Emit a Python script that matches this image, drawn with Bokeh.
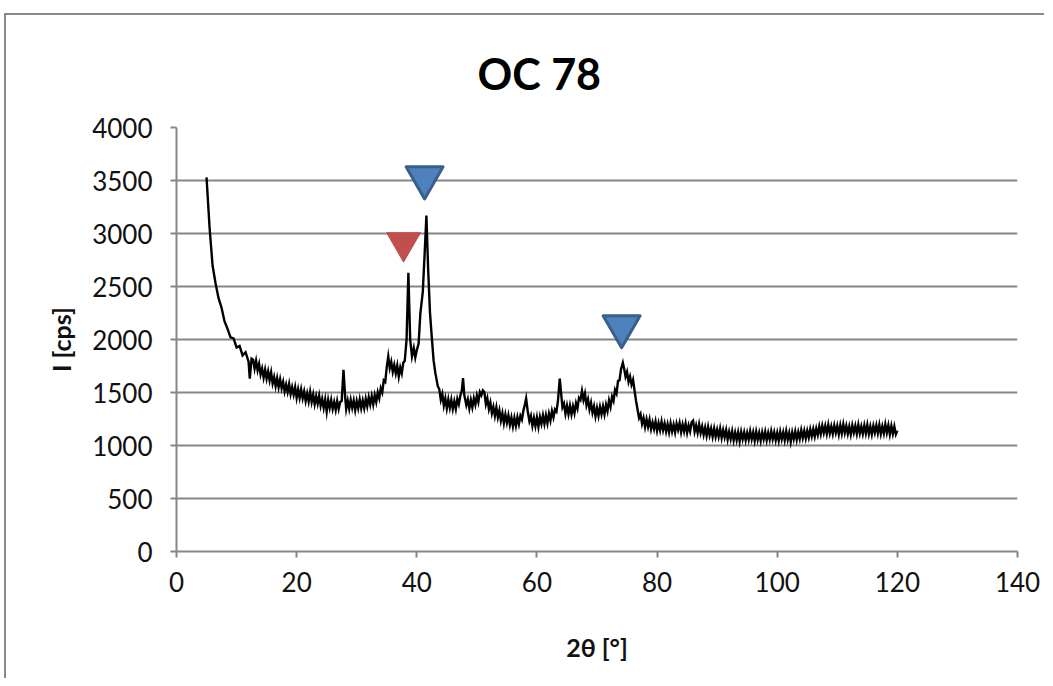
from bokeh.plotting import figure
from bokeh.models import Range1d, FixedTicker
from bokeh.embed import file_html
from bokeh.resources import INLINE

# ---- data (2theta in degrees, intensity in cps) ----
theta_a = [5.0, 5.5, 6.0, 6.5, 7.0, 7.5, 8.0, 8.5, 9.0, 9.5, 10.0, 10.5, 11.0, 11.5, 12.0, 12.2, 12.5]
int_a = [3530, 3060, 2700, 2530, 2390, 2300, 2170, 2100, 2020, 2010, 1925, 1940, 1850, 1880, 1790, 1630, 1820]

theta_b = [12.75, 13.0, 13.25, 13.5, 13.75, 14.0, 14.25, 14.5, 14.75, 15.0,
           15.25, 15.5, 15.75, 16.0, 16.25, 16.5, 16.75, 17.0, 17.25, 17.5,
           17.75, 18.0, 18.25, 18.5, 18.75, 19.0, 19.25, 19.5, 19.75, 20.0,
           20.25, 20.5, 20.75, 21.0, 21.25, 21.5, 21.75, 22.0, 22.25, 22.5,
           22.75, 23.0, 23.25, 23.5, 23.75, 24.0, 24.25, 24.5, 24.75, 25.0,
           25.25, 25.5, 25.75, 26.0, 26.25, 26.5, 26.75, 27.0, 27.25, 27.5,
           27.8, 28.1]
int_b = [1810, 1725, 1800, 1710, 1770, 1670, 1725, 1640, 1715, 1630,
         1700, 1615, 1690, 1585, 1645, 1560, 1635, 1550, 1625, 1540,
         1600, 1510, 1575, 1505, 1580, 1485, 1550, 1480, 1550, 1450,
         1530, 1450, 1530, 1445, 1510, 1420, 1490, 1415, 1505, 1410,
         1480, 1390, 1465, 1395, 1470, 1375, 1440, 1355, 1435, 1320,
         1430, 1355, 1430, 1345, 1410, 1335, 1420, 1345, 1410, 1420,
         1715, 1440]

theta_c = [28.25, 28.5, 28.75, 29.0, 29.25, 29.5, 29.75, 30.0, 30.25, 30.5,
           30.75, 31.0, 31.25, 31.5, 31.75, 32.0, 32.25, 32.5, 32.75, 33.0,
           33.25, 33.5, 33.75, 34.0, 34.25, 34.5, 34.75, 35.0, 35.25, 35.5,
           35.75, 36.0, 36.25, 36.5, 36.75, 37.0, 37.25, 37.5, 37.75, 38.0]
int_c = [1345, 1423, 1346, 1430, 1355, 1425, 1335, 1420, 1352, 1435,
         1352, 1425, 1352, 1440, 1370, 1455, 1387, 1465, 1387, 1475,
         1410, 1500, 1445, 1540, 1500, 1615, 1600, 1740, 1840, 1730,
         1790, 1695, 1760, 1680, 1755, 1650, 1735, 1680, 1780, 1800]

theta_d = [38.3, 38.6, 38.9, 39.2, 39.5, 39.75, 40.0, 40.3, 40.6, 41.0, 41.3, 41.6,
           41.9, 42.2, 42.5, 42.8, 43.1, 43.5]
int_d = [2000, 2630, 2000, 1840, 1920, 1830, 1900, 1960, 2250, 2450, 2800, 3170,
         2650, 2250, 2020, 1800, 1680, 1560]

theta_e = [43.75, 44.0, 44.25, 44.5, 44.75, 45.0, 45.25, 45.5, 45.75, 46.0,
           46.25, 46.5, 46.75, 47.0, 47.25, 47.5, 47.7, 47.9,
           48.25, 48.5, 48.75, 49.0, 49.25, 49.5, 49.75, 50.0, 50.25, 50.5, 50.75, 51.0]
int_e = [1530, 1430, 1485, 1375, 1445, 1350, 1435, 1355, 1432, 1345,
         1417, 1345, 1440, 1390, 1470, 1520, 1635, 1480,
         1380, 1435, 1350, 1430, 1360, 1445, 1385, 1470, 1410, 1505, 1475, 1520]

theta_f = [51.25, 51.5, 51.75, 52.0, 52.25, 52.5, 52.75, 53.0, 53.25, 53.5,
           53.75, 54.0, 54.25, 54.5, 54.75, 55.0, 55.25, 55.5, 55.75, 56.0,
           56.25, 56.5, 56.75, 57.0, 57.25, 57.5, 57.75, 58.0, 58.2, 58.45]
int_f = [1505, 1390, 1445, 1345, 1405, 1305, 1365, 1280, 1360, 1265,
         1330, 1235, 1305, 1210, 1292, 1215, 1285, 1195, 1265, 1180,
         1262, 1185, 1267, 1200, 1280, 1245, 1330, 1390, 1445, 1330]

theta_g = [58.75, 59.0, 59.25, 59.5, 59.75, 60.0, 60.25, 60.5, 60.75, 61.0,
           61.25, 61.5, 61.75, 62.0, 62.25, 62.5, 62.75, 63.0, 63.25, 63.5,
           63.8, 64.1]
int_g = [1230, 1280, 1185, 1260, 1182, 1265, 1175, 1270, 1205, 1285,
         1205, 1285, 1210, 1300, 1235, 1325, 1265, 1340, 1320, 1420,
         1630, 1450]

theta_h = [64.25, 64.5, 64.75, 65.0, 65.25, 65.5, 65.75, 66.0, 66.25, 66.5,
           66.75, 67.0, 67.25, 67.5, 67.75, 68.0, 68.25, 68.5, 68.75, 69.0,
           69.25, 69.5, 69.75, 70.0, 70.25, 70.5, 70.75, 71.0, 71.25, 71.5,
           71.75, 72.0, 72.25, 72.5, 72.75, 73.0, 73.25, 73.5, 73.75, 74.0,
           74.3, 74.6]
int_h = [1360, 1395, 1300, 1375, 1295, 1375, 1295, 1370, 1305, 1400,
         1350, 1450, 1430, 1515, 1430, 1490, 1380, 1435, 1340, 1405,
         1310, 1370, 1275, 1355, 1280, 1365, 1295, 1370, 1295, 1385,
         1325, 1425, 1365, 1460, 1420, 1525, 1490, 1610, 1615, 1720,
         1780, 1700]

theta_i = [74.75, 75.0, 75.25, 75.5, 75.75, 76.0, 76.25, 76.5, 76.75, 77.0,
           77.25, 77.5, 77.75, 78.0, 78.25, 78.5, 78.75, 79.0, 79.25, 79.5,
           79.75, 80.0, 80.25, 80.5, 80.75, 81.0, 81.25, 81.5, 81.75, 82.0,
           82.25, 82.5, 82.75, 83.0, 83.25, 83.5, 83.75, 84.0, 84.25, 84.5,
           84.75, 85.0, 85.25, 85.5, 85.75, 86.0, 86.25, 86.5, 86.75, 87.0,
           87.25, 87.5, 87.75, 88.0, 88.25, 88.5, 88.75, 89.0, 89.25, 89.5,
           89.75, 90.0, 90.25, 90.5, 90.75, 91.0, 91.25, 91.5, 91.75, 92.0,
           92.25, 92.5, 92.75, 93.0, 93.25, 93.5, 93.75, 94.0, 94.25, 94.5,
           94.75, 95.0, 95.25, 95.5, 95.75, 96.0, 96.25, 96.5, 96.75, 97.0]
int_i = [1650, 1695, 1600, 1650, 1575, 1620, 1520, 1420, 1340, 1260,
         1295, 1205, 1260, 1175, 1247, 1175, 1245, 1155, 1217, 1155,
         1227, 1140, 1212, 1145, 1227, 1145, 1208, 1132, 1201, 1125,
         1209, 1133, 1197, 1123, 1207, 1148, 1212, 1125, 1198, 1132,
         1206, 1120, 1190, 1135, 1220, 1235, 1130, 1190, 1120, 1200,
         1118, 1180, 1102, 1170, 1092, 1175, 1097, 1160, 1082, 1160,
         1082, 1150, 1082, 1160, 1072, 1145, 1077, 1145, 1057, 1130,
         1062, 1135, 1048, 1122, 1051, 1125, 1040, 1130, 1060, 1125,
         1050, 1120, 1055, 1135, 1060, 1125, 1045, 1130, 1055, 1120]

theta_j = [97.25, 97.5, 97.75, 98.0, 98.25, 98.5, 98.75, 99.0, 99.25, 99.5,
           99.75, 100.0, 100.25, 100.5, 100.75, 101.0, 101.25, 101.5, 101.75, 102.0,
           102.25, 102.5, 102.75, 103.0, 103.25, 103.5, 103.75, 104.0, 104.25, 104.5,
           104.75, 105.0, 105.25, 105.5, 105.75, 106.0, 106.25, 106.5, 106.75, 107.0,
           107.25, 107.5, 107.75, 108.0, 108.25, 108.5, 108.75, 109.0, 109.25, 109.5,
           109.75, 110.0, 110.25, 110.5, 110.75, 111.0, 111.25, 111.5, 111.75, 112.0,
           112.25, 112.5, 112.75, 113.0, 113.25, 113.5, 113.75, 114.0, 114.25, 114.5,
           114.75, 115.0, 115.25, 115.5, 115.75, 116.0, 116.25, 116.5, 116.75, 117.0,
           117.25, 117.5, 117.75, 118.0, 118.25, 118.5, 118.75, 119.0, 119.25, 119.5,
           119.75, 120.0]
int_j = [1045, 1125, 1060, 1130, 1050, 1120, 1055, 1135, 1060, 1125,
         1050, 1120, 1045, 1130, 1060, 1125, 1050, 1135, 1055, 1120,
         1035, 1125, 1060, 1132, 1054, 1126, 1063, 1145, 1072, 1139,
         1066, 1138, 1075, 1153, 1086, 1155, 1085, 1160, 1100, 1180,
         1108, 1186, 1118, 1185, 1110, 1195, 1115, 1180, 1110, 1190,
         1120, 1185, 1105, 1190, 1115, 1200, 1120, 1185, 1110, 1180,
         1105, 1190, 1120, 1185, 1110, 1195, 1115, 1180, 1110, 1190,
         1115, 1195, 1110, 1180, 1105, 1185, 1120, 1190, 1115, 1195,
         1110, 1180, 1115, 1200, 1120, 1190, 1105, 1185, 1110, 1180,
         1105, 1140]

red_marker_x = [37.8]
red_marker_y = [2915]
blue_marker_x = [41.3, 74.1]
blue_marker_y = [3528, 2123]

x_ticks = [0, 20, 40, 60, 80, 100, 120, 140]
y_ticks = [0, 500, 1000, 1500, 2000, 2500, 3000, 3500, 4000]

title_text = "OC 78"
x_label = "2θ [°]"
y_label = "I [cps]"

segments = [(theta_a, int_a), (theta_b, int_b), (theta_c, int_c), (theta_d, int_d),
            (theta_e, int_e), (theta_f, int_f), (theta_g, int_g), (theta_h, int_h),
            (theta_i, int_i), (theta_j, int_j)]
two_theta, intensity = [], []
for xs, ys in segments:
    n = min(len(xs), len(ys))
    two_theta += xs[:n]
    intensity += ys[:n]

FONT = "Lato"
GRID = "#868686"

p = figure(
    width=1040, height=665,
    output_backend="svg", toolbar_location=None,
    x_range=Range1d(0, 140), y_range=Range1d(0, 4000),
    min_border_left=170, min_border_right=29,
    min_border_top=112, min_border_bottom=129,
    styles={"border-top": "2px solid #8a8a8a", "border-left": "2px solid #8a8a8a",
            "margin-left": "4px", "margin-top": "13px"},
)
p.outline_line_color = None
p.background_fill_color = "white"
p.border_fill_color = "white"

p.title.text = title_text
p.title.align = "left"
p.title.offset = 301
p.title.text_font = FONT
p.title.text_font_size = "43px"
p.title.text_font_style = "bold"
p.title.text_color = "#000000"
p.title.standoff = 58

p.xgrid.grid_line_color = None
p.ygrid.grid_line_color = GRID
p.ygrid.grid_line_width = 2

for ax in (p.xaxis[0], p.yaxis[0]):
    ax.axis_line_color = GRID
    ax.axis_line_width = 2
    ax.major_tick_line_color = GRID
    ax.major_tick_line_width = 2
    ax.major_tick_in = 0
    ax.major_tick_out = 6
    ax.minor_tick_line_color = None
    ax.major_label_text_font = FONT
    ax.major_label_text_font_size = "26px"
    ax.major_label_text_color = "#111111"
    ax.axis_label_text_font = FONT
    ax.axis_label_text_font_size = "25px"
    ax.axis_label_text_font_style = "bold"
    ax.axis_label_text_color = "#111111"

p.xaxis.ticker = FixedTicker(ticks=x_ticks)
p.yaxis.ticker = FixedTicker(ticks=y_ticks)
p.xaxis.axis_label = x_label
p.yaxis.axis_label = y_label
p.xaxis.major_label_standoff = 14
p.yaxis.major_label_standoff = 18
p.xaxis.axis_label_standoff = 37
p.yaxis.axis_label_standoff = 13

p.line(two_theta, intensity, line_color="black", line_width=2.4, line_join="miter")

p.scatter(red_marker_x, red_marker_y, marker="inverted_triangle", size=34,
          fill_color="#C0504D", line_color="#C0504D", line_width=1, line_join="round")
p.scatter(blue_marker_x, blue_marker_y, marker="inverted_triangle", size=37,
          fill_color="#4F81BD", line_color="#3A5F8B", line_width=3, line_join="round")

open("out.html", "w").write(file_html(p, INLINE))
